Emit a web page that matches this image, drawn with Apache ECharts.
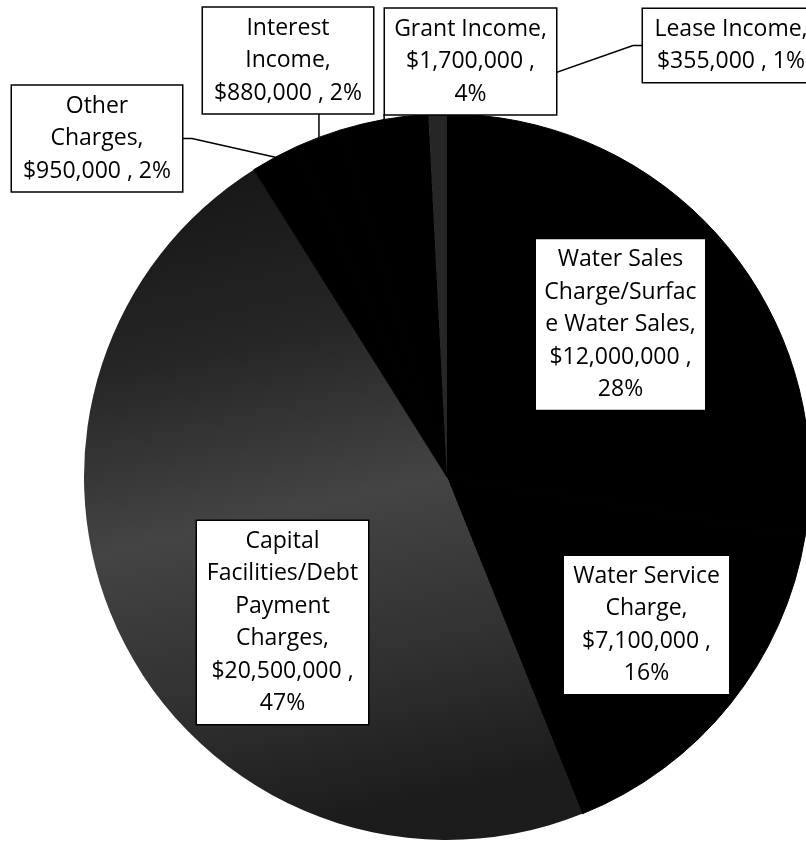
<!DOCTYPE html>
<html><head><meta charset="utf-8">
<script src="https://cdn.jsdelivr.net/npm/echarts@6/dist/echarts.min.js"></script>
<style>html,body{margin:0;padding:0;background:#fff}#c{width:806px;height:843px}</style>
</head><body><div id="c"></div>
<script>
// ---- data ----
const categories = ['Water Sales Charge/Surface Water Sales', 'Water Service Charge', 'Capital Facilities/Debt Payment Charges', 'Other Charges', 'Interest Income', 'Grant Income', 'Lease Income'];
const values = [12000000, 7100000, 20500000, 950000, 880000, 1700000, 355000];
// label wrapping as printed in the original
const labelNameLines = ['Water Sales\nCharge/Surfac\ne Water Sales,', 'Water Service\nCharge,', 'Capital\nFacilities/Debt\nPayment\nCharges,', 'Other\nCharges,', 'Interest\nIncome,', 'Grant Income,', 'Lease Income,'];
const pctOnOwnLine = [true, true, true, false, false, true, false];

// ---- layout / style (not data) ----
const capitalFill = {
  type: 'linear', x: 0, y: 0, x2: 0.3, y2: 1,
  colorStops: [
    {offset: 0, color: '#141414'},
    {offset: 0.3, color: '#262626'},
    {offset: 0.55, color: '#444444'},
    {offset: 0.8, color: '#303030'},
    {offset: 1, color: '#1c1c1c'}
  ]
};
const sliceColors = ['#000000', '#000000', capitalFill, '#000000', '#000000', '#000000', '#262626'];
const sliceBorders = [1, 1, 0, 1, 1, 1, 0];
const boxes = [
  {cx: 620.5, cy: 324.5, w: 169, outside: false},
  {cx: 646.5, cy: 625, w: 165, outside: false},
  {cx: 282.5, cy: 622.5, w: 171, outside: false},
  {cx: 97, cy: 138.5, w: 170, outside: true, attach: 'right'},
  {cx: 288, cy: 60.5, w: 170, outside: true, attach: 'bottom'},
  {cx: 470.5, cy: 61.5, w: 171, outside: true, attach: 'bottom'},
  {cx: 731, cy: 45.5, w: 176, outside: true, attach: 'left'}
];
const LINE_H = 32.5, PAD = 4;
const PIE_CENTER = [447, 477], PIE_R = 363;

function fmtMoney(v) {
  return '$' + String(v).replace(/\B(?=(\d{3})+(?!\d))/g, ',');
}
function labelText(i, pct) {
  return labelNameLines[i] + '\n' + fmtMoney(values[i]) + ' ,' + (pctOnOwnLine[i] ? '\n' : ' ') + pct + '%';
}

const total = values.reduce((a, b) => a + b, 0);
function edgePoint(i) {
  let before = 0;
  for (let k = 0; k < i; k++) before += values[k];
  const midFrac = (before + values[i] / 2) / total;
  const ang = midFrac * 2 * Math.PI; // clockwise from top
  return [PIE_CENTER[0] + PIE_R * Math.sin(ang), PIE_CENTER[1] - PIE_R * Math.cos(ang)];
}

const data = categories.map((name, i) => ({
  name: name,
  value: values[i],
  itemStyle: {color: sliceColors[i], borderColor: '#000000', borderWidth: sliceBorders[i]},
  label: {position: boxes[i].outside ? 'outside' : 'inside', width: boxes[i].w},
  labelLine: {show: boxes[i].outside}
}));

const chart = echarts.init(document.getElementById('c'), null, {renderer: 'canvas'});
chart.setOption({
  backgroundColor: '#ffffff',
  animation: false,
  series: [{
    type: 'pie',
    silent: true,
    center: PIE_CENTER,
    radius: PIE_R,
    startAngle: 90,
    clockwise: true,
    avoidLabelOverlap: false,
    percentPrecision: 0,
    minShowLabelAngle: 0,
    emphasis: {disabled: true},
    label: {
      show: true,
      formatter: p => labelText(p.dataIndex, p.percent),
      fontFamily: 'Open Sans',
      fontSize: 23,
      lineHeight: LINE_H,
      color: '#000',
      backgroundColor: '#ffffff',
      borderColor: '#000',
      borderWidth: 1.5,
      padding: [PAD, 0, PAD, 0],
      align: 'center'
    },
    labelLine: {show: true, lineStyle: {color: '#000', width: 1.5}},
    labelLayout: function (params) {
      const i = params.dataIndex;
      const b = boxes[i];
      const res = {x: b.cx, y: b.cy, align: 'center', verticalAlign: 'middle'};
      if (b.outside) {
        const nLines = labelText(i, 0).split('\n').length;
        const h = nLines * LINE_H + 2 * PAD;
        const p0 = (params.labelLinePoints && params.labelLinePoints[0]) ? params.labelLinePoints[0] : edgePoint(i);
        if (b.attach === 'right') {
          const xr = b.cx + b.w / 2;
          res.labelLinePoints = [p0, [xr + 10, b.cy], [xr, b.cy]];
        } else if (b.attach === 'left') {
          const xl = b.cx - b.w / 2;
          res.labelLinePoints = [p0, [xl - 10, b.cy], [xl, b.cy]];
        } else {
          const yb = b.cy + h / 2;
          res.labelLinePoints = [p0, [p0[0], (p0[1] + yb) / 2], [p0[0], yb]];
        }
      }
      return res;
    },
    data: data
  }]
});
</script>
</body></html>
